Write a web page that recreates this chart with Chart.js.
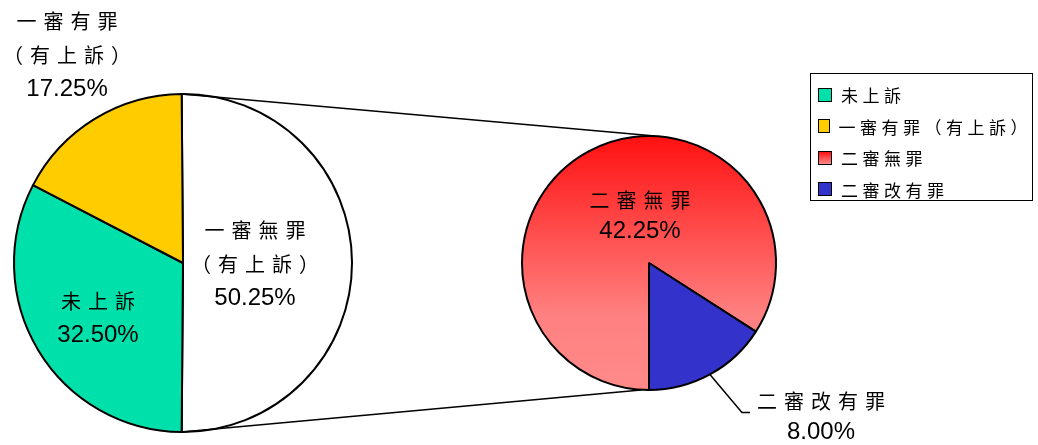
<!DOCTYPE html>
<html>
<head>
<meta charset="utf-8">
<script src="https://cdn.jsdelivr.net/npm/chart.js@4.4.1/dist/chart.umd.min.js"></script>
<style>
  body { margin: 0; background: #fff; }
  #wrap { position: relative; width: 1038px; height: 445px; overflow: hidden; }
  #wrap canvas { position: absolute; left: 0; top: 0; }
  #legend {
    position: absolute; left: 810px; top: 73px; width: 223px; height: 128px;
    border: 1.5px solid #000; background: #fff; box-sizing: border-box;
    padding-top: 5px;
  }
  .item { display: flex; align-items: center; height: 31.5px; padding-left: 7px; }
  .box { width: 12px; height: 12px; border: 1.5px solid #000; margin-right: 9px; }
  .txt { font: 17px "Noto Sans CJK TC"; letter-spacing: 4.5px; color: #000; white-space: nowrap; }
</style>
</head>
<body>
<div id="wrap">
  <canvas id="main" width="1038" height="445"></canvas>
  <canvas id="sub" width="1038" height="445"></canvas>
  <div id="legend"></div>
</div>
<script>
// 主圓餅（百分比）
const mainLabels = ['一審無罪（有上訴）', '未上訴', '一審有罪（有上訴）'];
const mainValues = [50.25, 32.50, 17.25];
// 子圓餅：一審無罪（有上訴）再拆分
const subLabels = ['二審無罪', '二審改有罪'];
const subValues = [42.25, 8.00];

const mainColors = ['#ffffff', '#00e0aa', '#ffcc00'];
const blue = '#3333cc';

const cjkFont = '"Noto Sans CJK TC"';
const numFont = '"Liberation Sans", Arial, sans-serif';

function redGradient(ctx, top, bottom) {
  const g = ctx.createLinearGradient(0, top, 0, bottom);
  g.addColorStop(0, '#ff1010');
  g.addColorStop(0.7, '#ff8080');
  g.addColorStop(1, '#ff8a8a');
  return g;
}

function drawSpaced(ctx, text, cx, y, spacing) {
  const chars = Array.from(text);
  const widths = chars.map(c => ctx.measureText(c).width);
  const total = widths.reduce((a, b) => a + b, 0) + spacing * (chars.length - 1);
  let x = cx - total / 2;
  const left = x;
  chars.forEach((c, i) => {
    ctx.fillText(c, x, y);
    x += widths[i] + spacing;
  });
  return left;
}

// 扇區標籤
const sliceLabels = {
  id: 'sliceLabels',
  afterDatasetsDraw(chart, args, opts) {
    const ctx = chart.ctx;
    const meta = chart.getDatasetMeta(0);
    const labels = chart.data.labels;
    const values = chart.data.datasets[0].data;
    ctx.save();
    ctx.fillStyle = '#000';
    ctx.textAlign = 'left';
    ctx.textBaseline = 'middle';
    meta.data.forEach((arc, i) => {
      const r = arc.outerRadius;
      const cx = arc.x + opts.pos[i][0] * r;
      const cy = arc.y + opts.pos[i][1] * r;
      const name = labels[i];
      const parts = name.includes('（') ? [name.slice(0, name.indexOf('（')), name.slice(name.indexOf('（'))] : [name];
      const lines = parts.concat([values[i].toFixed(2) + '%']);
      const lh = opts.lineHeight;
      const y0 = cy - (lines.length - 1) * lh / 2;
      let firstLeft = 0;
      lines.forEach((t, j) => {
        const isNum = j === lines.length - 1;
        ctx.font = isNum ? '24px ' + numFont : '20px ' + cjkFont;
        const left = drawSpaced(ctx, t, cx, y0 + j * lh, isNum ? 0 : 7);
        if (j === 0) firstLeft = left;
      });
      if (opts.leader === i) {
        const mid = (arc.startAngle + arc.endAngle) / 2;
        const sx = arc.x + Math.cos(mid) * r;
        const sy = arc.y + Math.sin(mid) * r;
        const ey = y0 + 11;
        ctx.strokeStyle = '#000';
        ctx.lineWidth = 1.5;
        ctx.beginPath();
        ctx.moveTo(sx, sy);
        ctx.lineTo(firstLeft - 15, ey);
        ctx.lineTo(firstLeft - 7, ey);
        ctx.stroke();
      }
    });
    ctx.restore();
  }
};

// 兩圓之間的連接線
const connectors = {
  id: 'connectors',
  afterDatasetsDraw(chart) {
    const mainArc = mainChart.getDatasetMeta(0).data[0];
    const subArc = chart.getDatasetMeta(0).data[0];
    const ctx = chart.ctx;
    const r1 = mainArc.outerRadius, r2 = subArc.outerRadius;
    const a1 = mainArc.startAngle, a2 = mainArc.endAngle;
    ctx.save();
    ctx.strokeStyle = '#000';
    ctx.lineWidth = 1.5;
    ctx.beginPath();
    ctx.moveTo(mainArc.x + Math.cos(a1) * r1, mainArc.y + Math.sin(a1) * r1);
    ctx.lineTo(subArc.x + 6, subArc.y - r2);
    ctx.moveTo(mainArc.x + Math.cos(a2) * r1, mainArc.y + Math.sin(a2) * r1);
    ctx.lineTo(subArc.x - 8, subArc.y + r2);
    ctx.stroke();
    ctx.restore();
  }
};

const baseOptions = {
  responsive: false,
  animation: false,
  events: [],
  plugins: { legend: { display: false }, tooltip: { enabled: false } }
};

const mainTotal = mainValues.reduce((a, b) => a + b, 0);
const mainChart = new Chart(document.getElementById('main'), {
  type: 'pie',
  data: {
    labels: mainLabels,
    datasets: [{
      data: mainValues,
      backgroundColor: mainColors,
      borderColor: '#000',
      borderWidth: 2
    }]
  },
  options: {
    ...baseOptions,
    rotation: -(mainValues[0] / mainTotal * 360 - 180) / 2,
    layout: { padding: { left: 13, right: 685, top: 93, bottom: 12 } },
    plugins: {
      ...baseOptions.plugins,
      sliceLabels: { pos: [[0.426, 0.006], [-0.503, 0.325], [-0.686, -1.231]], lineHeight: 34, leader: -1 }
    }
  },
  plugins: [sliceLabels]
});

const subChart = new Chart(document.getElementById('sub'), {
  type: 'pie',
  data: {
    labels: subLabels,
    datasets: [{
      data: subValues,
      backgroundColor: (c) => {
        if (c.dataIndex === 1) return blue;
        const area = c.chart.chartArea;
        if (!area) return '#ff5050';
        return redGradient(c.chart.ctx, area.top, area.bottom);
      },
      borderColor: '#000',
      borderWidth: 2
    }]
  },
  options: {
    ...baseOptions,
    rotation: 180,
    layout: { padding: { left: 521, right: 261, top: 135, bottom: 54 } },
    plugins: {
      ...baseOptions.plugins,
      sliceLabels: { pos: [[-0.071, -0.370], [1.354, 1.213]], lineHeight: 31, leader: 1 }
    }
  },
  plugins: [sliceLabels, connectors]
});

// 圖例
const legendNames = [mainLabels[1], mainLabels[2], subLabels[0], subLabels[1]];
const legendFills = [mainColors[1], mainColors[2], 'linear-gradient(#ff1010, #ff8a8a)', blue];
const legend = document.getElementById('legend');
legendNames.forEach((name, i) => {
  const row = document.createElement('div');
  row.className = 'item';
  const box = document.createElement('div');
  box.className = 'box';
  box.style.background = legendFills[i];
  const txt = document.createElement('span');
  txt.className = 'txt';
  txt.textContent = name;
  row.appendChild(box);
  row.appendChild(txt);
  legend.appendChild(row);
});
</script>
</body>
</html>
